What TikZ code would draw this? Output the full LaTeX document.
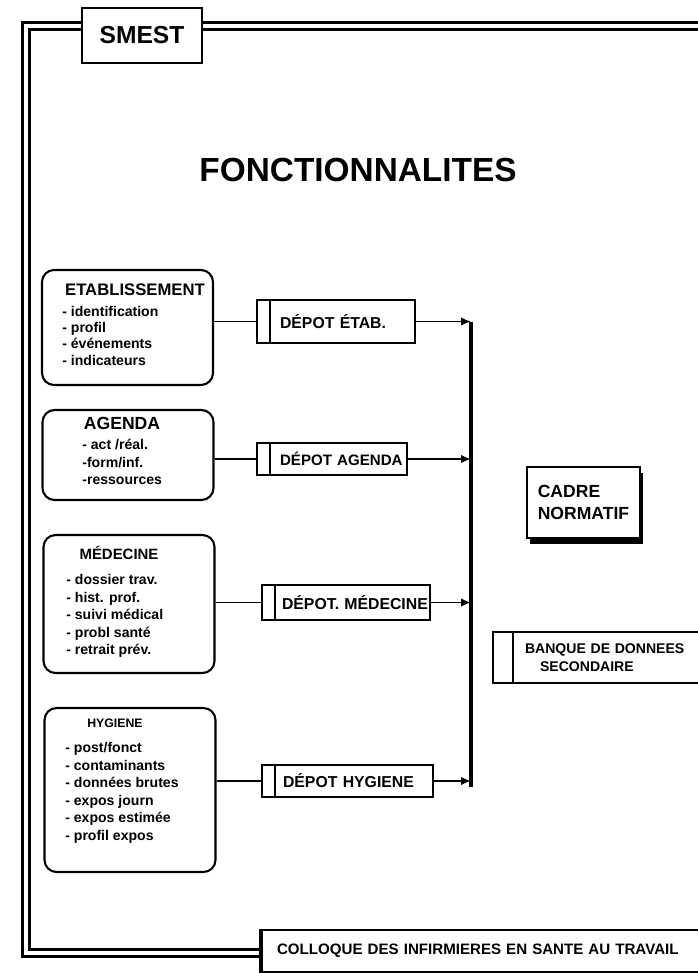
\documentclass[tikz,border=0pt]{standalone}
\usepackage{fontspec}
\setmainfont{Liberation Sans}
\usetikzlibrary{positioning,shadows,arrows.meta}

\tikzset{
  panel/.style={draw, line width=1.2pt, rounded corners=0.24cm, minimum width=3.42cm},
  ptitle/.style={inner sep=0pt},
  plist/.style={inner sep=0pt, align=left},
  depotbox/.style={draw, line width=1.4pt, fill=white, inner xsep=0pt, align=left,
    font=\bfseries\fontsize{9}{11}\selectfont,
    path picture={\draw[line width=1.2pt]
      ([xshift=#1]path picture bounding box.north west) --
      ([xshift=#1]path picture bounding box.south west);}},
  depotbox/.default=0.26cm,
  link/.style={line width=1.1pt},
  feed/.style={line width=1.1pt, -{Latex[length=0.2cm,width=0.17cm]}},
}

\begin{document}
\begin{tikzpicture}[x=0.02cm, y=-0.02cm, font=\bfseries]
  \useasboundingbox (0,0) rectangle (697,973);

  % outer frame
  \draw[double, line width=1.3pt, double distance=2.6pt] (720,26) -- (26,26) -- (26,953) -- (262,953);
  \node[draw, line width=1.6pt, fill=white, minimum width=2.4cm, minimum height=1.1cm,
        font=\bfseries\fontsize{14}{16}\selectfont] (smest) at (142,35.5) {SMEST};

  \node[font=\bfseries\fontsize{19}{22}\selectfont] (fonct) at (358,170) {FONCTIONNALITES};

  % functional blocks
  \node[panel, minimum height=2.3cm] (etab) at (127.5,327.5) {};
  \node[ptitle, font=\bfseries\fontsize{9.5}{11}\selectfont] (etabT) at (135,290) {ETABLISSEMENT};
  \node[plist, anchor=north west, font=\bfseries\fontsize{8}{9.2}\selectfont] (etabL) at (62,306)
    {- identification\\- profil\\- événements\\- indicateurs};

  \node[panel, minimum height=1.8cm] (agenda) at (128,455) {};
  \node[ptitle, font=\bfseries\fontsize{10}{12}\selectfont] (agendaT) at (122,423) {AGENDA};
  \node[plist, anchor=north west, font=\bfseries\fontsize{8}{10}\selectfont] (agendaL) at (82,439)
    {- act /réal.\\-form/inf.\\-ressources};

  \node[panel, minimum height=2.76cm] (medecine) at (129,604) {};
  \node[ptitle, font=\bfseries\fontsize{8.5}{10}\selectfont] (medecineT) at (119,553) {MÉDECINE};
  \node[plist, anchor=north west, font=\bfseries\fontsize{8}{10}\selectfont] (medecineL) at (66,574)
    {- dossier trav.\\- hist. prof.\\- suivi médical\\- probl santé\\- retrait prév.};

  \node[panel, minimum height=3.28cm] (hygiene) at (130,790) {};
  \node[ptitle, font=\bfseries\fontsize{7}{9}\selectfont] (hygieneT) at (115,723) {HYGIENE};
  \node[plist, anchor=north west, font=\bfseries\fontsize{8}{10}\selectfont] (hygieneL) at (65,742)
    {- post/fonct\\- contaminants\\- données brutes\\- expos journ\\- expos estimée\\- profil expos};

  % stores
  \node[depotbox, text width=3.16cm, minimum height=0.86cm] (dEtab) at (336,321.5) {\hspace*{0.46cm}DÉPOT ÉTAB.};
  \node[depotbox, text width=3.0cm, minimum height=0.64cm, font=\bfseries\fontsize{8.6}{10}\selectfont]
        (dAgenda) at (332,459) {\hspace*{0.46cm}DÉPOT AGENDA};
  \node[depotbox, text width=3.36cm, minimum height=0.7cm] (dMedecine) at (346,602.5) {\hspace*{0.4cm}DÉPOT. MÉDECINE};
  \node[depotbox, text width=3.42cm, minimum height=0.64cm] (dHygiene) at (347.5,781) {\hspace*{0.42cm}DÉPOT HYGIENE};

  \draw[link] (etab.east |- dEtab.west) -- (dEtab.west);
  \draw[link] (agenda.east |- dAgenda.west) -- (dAgenda.west);
  \draw[link] (medecine.east |- dMedecine.west) -- (dMedecine.west);
  \draw[link] (hygiene.east |- dHygiene.west) -- (dHygiene.west);

  % collecting bus
  \coordinate (busTop) at (471,321.5);
  \coordinate (busEnd) at (471,787);
  \draw[line width=2pt] (busTop) -- (busEnd);
  \draw[feed] (dEtab.east) -- (dEtab.east -| busTop);
  \draw[feed] (dAgenda.east) -- (dAgenda.east -| busTop);
  \draw[feed] (dMedecine.east) -- (dMedecine.east -| busTop);
  \draw[feed] (dHygiene.east) -- (dHygiene.east -| busTop);

  \node[draw, line width=1.4pt, fill=white, minimum width=2.26cm, minimum height=1.42cm, align=left,
        font=\bfseries\fontsize{10}{13}\selectfont,
        drop shadow={fill=black, opacity=1, shadow xshift=0.06cm, shadow yshift=-0.12cm}]
        (cadre) at (583.5,502.5) {CADRE\\NORMATIF};

  \node[depotbox=0.4cm, text width=4.4cm, minimum height=1.02cm, font=\bfseries\fontsize{8}{10}\selectfont]
        (banque) at (603,657.5) {\hspace*{0.64cm}BANQUE DE DONNEES\\\hspace*{0.94cm}SECONDAIRE};

  % footer
  \node[draw, line width=1.4pt, fill=white, inner xsep=0pt, text width=9.2cm, minimum height=0.84cm, align=left,
        font=\bfseries\fontsize{8.6}{10}\selectfont] (footer) at (492,951)
        {\hspace*{0.3cm}COLLOQUE DES INFIRMIERES EN SANTE AU TRAVAIL};
  \draw[line width=2.2pt] (footer.north west) -- (footer.south west);
\end{tikzpicture}
\end{document}
